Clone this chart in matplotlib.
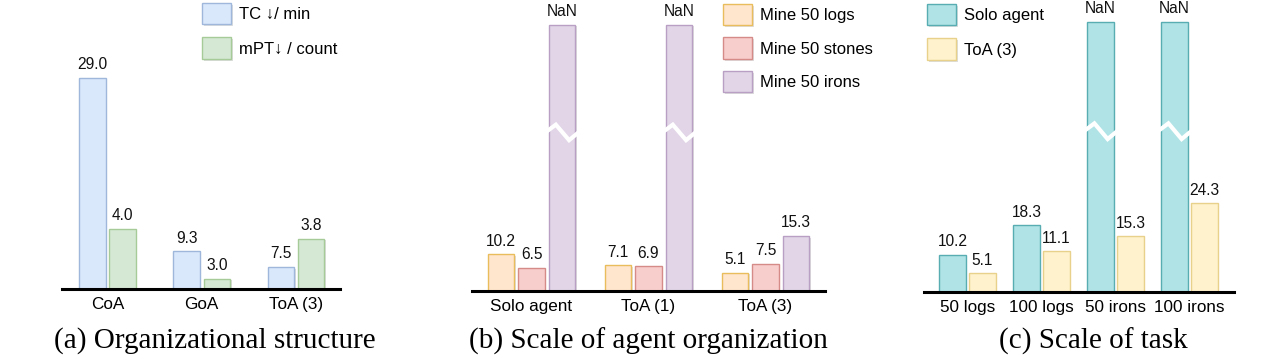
import numpy as np
import matplotlib
matplotlib.use("Agg")
import matplotlib.pyplot as plt
import matplotlib.patheffects as pe
from matplotlib.colors import to_rgb

# ---- data ----
struct_names = ["CoA", "GoA", "ToA (3)"]
tc_min = [29.0, 9.3, 7.5]
mpt_count = [4.0, 3.0, 3.8]

org_names = ["Solo agent", "ToA (1)", "ToA (3)"]
logs_50 = [10.2, 7.1, 5.1]
stones_50 = [6.5, 6.9, 7.5]
irons_50 = [np.nan, np.nan, 15.3]

task_names = ["50 logs", "100 logs", "50 irons", "100 irons"]
solo_task = [10.2, 18.3, np.nan, np.nan]
toa3_task = [5.1, 11.1, 15.3, 24.3]

nan_cap = 74.0      # height used to show a NaN (failed) bar
break_at = 44.0     # where the broken bar is cut

# ---- style ----
W, H = 1280, 363
SANS = ["Liberation Sans", "DejaVu Sans"]
SERIF = ["Liberation Serif", "DejaVu Serif"]
plt.rcParams["font.family"] = SANS


def soft(fill, edge, k=0.55):
    f, e = np.array(to_rgb(fill)), np.array(to_rgb(edge))
    return fill, tuple(k * e + (1 - k) * f)


blue = soft("#dae8fc", "#6c8ebf")
green = soft("#d5e8d4", "#82b366")
orange = soft("#ffe6cc", "#d79b00")
red = soft("#f8cecc", "#b85450")
purple = soft("#e1d5e7", "#9673a6")
teal = soft("#b0e3e6", "#0e8088")
yellow = soft("#fff2cc", "#d6b656")

shadow = [pe.SimplePatchShadow(offset=(1.2, -1.2), alpha=0.18), pe.Normal()]

fig = plt.figure(figsize=(W / 100, H / 100), dpi=100)


def px_axes(left, right, top, base):
    return fig.add_axes([left / W, 1 - base / H, (right - left) / W, (base - top) / H])


def clean(ax, base=True):
    for s in ["top", "right", "left"]:
        ax.spines[s].set_visible(False)
    ax.spines["bottom"].set_visible(base)
    ax.spines["bottom"].set_linewidth(2.2)
    ax.spines["bottom"].set_zorder(5)
    ax.set_yticks([])
    ax.tick_params(axis="x", length=0, pad=6, labelsize=12.3)


def bars(ax, x, vals, width, colors, label):
    shown = [nan_cap if np.isnan(v) else v for v in vals]
    cont = ax.bar(x, shown, width, color=colors[0], edgecolor=colors[1],
                  linewidth=1.0, label=label, zorder=2)
    for r, v in zip(cont, vals):
        r.set_path_effects(shadow)
        txt = "NaN" if np.isnan(v) else f"{v:.1f}"
        ax.annotate(txt, (r.get_x() + r.get_width() / 2, r.get_height()),
                    xytext=(0, 4), textcoords="offset points", ha="center",
                    va="bottom", fontsize=11.2, color="#111111")
        if np.isnan(v):
            x0, w = r.get_x(), r.get_width()
            xs = x0 + w * np.array([-0.3, 0.27, 0.77, 1.15])
            ys = break_at + np.array([-0.9, 2.2, -2.1, 0.2])
            ax.plot(xs, ys, color="white", lw=3, solid_joinstyle="miter",
                    zorder=3, clip_on=False)
    return cont


def legend(handles, x, y, spacing):
    fig.legend(handles=handles, loc="upper left",
               bbox_to_anchor=(x / W, 1 - y / H), bbox_transform=fig.transFigure,
               frameon=False, fontsize=12, handlelength=1.75, handleheight=1.6,
               labelspacing=spacing, handletextpad=0.45, borderpad=0,
               borderaxespad=0)


# ---- (a) organizational structure ----
xa = np.arange(len(struct_names))
ax_a = px_axes(62, 340, 0, 289)
ax_a2 = ax_a.twinx()
ax_a.set_xlim(-0.482, 2.468)
ax_a.set_ylim(5.0, 5.0 + 289 / 8.79)
ax_a2.set_ylim(2.79, 2.79 + 289 / 50.0)
clean(ax_a, base=False)
clean(ax_a2, base=True)
ha1 = bars(ax_a, xa - 0.16, tc_min, 0.28, blue, "TC \u2193/ min")
ha2 = bars(ax_a2, xa + 0.16, mpt_count, 0.28, green, "mPT\u2193 / count")
ax_a.set_xticks(xa, struct_names)
legend([ha1, ha2], 202, 3, 0.78)

# ---- (b) scale of agent organization ----
xb = np.arange(len(org_names))
ax_b = px_axes(472, 825, 0, 291)
ax_b.set_xlim(-0.509, 2.509)
ax_b.set_ylim(0, 291 / 3.6)
clean(ax_b)
hb1 = bars(ax_b, xb - 0.26, logs_50, 0.2265, orange, "Mine 50 logs")
hb2 = bars(ax_b, xb, stones_50, 0.2265, red, "Mine 50 stones")
hb3 = bars(ax_b, xb + 0.26, irons_50, 0.2265, purple, "Mine 50 irons")
ax_b.set_xticks(xb, org_names)
legend([hb1, hb2, hb3], 723, 4, 0.72)

# ---- (c) scale of task ----
xc = np.arange(len(task_names))
ax_c = px_axes(924, 1234, 0, 292)
ax_c.set_xlim(-0.588, 3.601)
ax_c.set_ylim(0, 292 / 3.65)
clean(ax_c)
hc1 = bars(ax_c, xc - 0.203, solo_task, 0.358, teal, "Solo agent")
hc2 = bars(ax_c, xc + 0.203, toa3_task, 0.358, yellow, "ToA (3)")
ax_c.set_xticks(xc, task_names)
legend([hc1, hc2], 927, 4, 0.78)

# ---- captions ----
for cx, cap in [(215, "(a) Organizational structure"),
                (648, "(b) Scale of agent organization"),
                (1093, "(c) Scale of task")]:
    fig.text(cx / W, 1 - 341 / H, cap, ha="center", va="center",
             family=SERIF, fontsize=21)

fig.savefig("out.png", dpi=100)
